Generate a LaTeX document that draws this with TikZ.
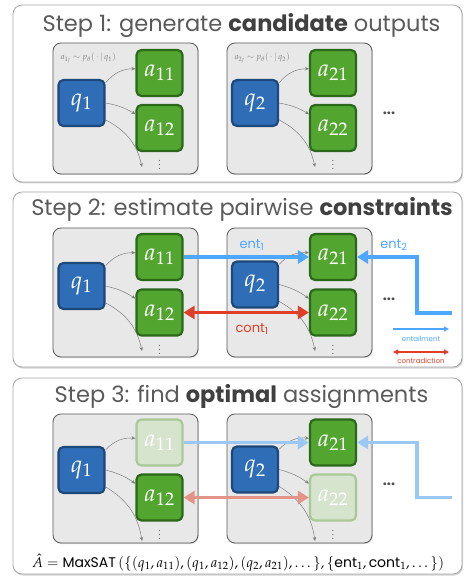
\documentclass[tikz,border=0pt]{standalone}
\usepackage{amsmath}
\usepackage{mathpazo}
\usepackage[no-math]{fontspec}
\setsansfont{Poppins}
\usepackage{tikz}
\usetikzlibrary{arrows.meta, positioning, shadows}
\definecolor{qblue}{RGB}{47,110,183}
\definecolor{qborder}{RGB}{30,72,120}
\definecolor{agreen}{RGB}{82,166,48}
\definecolor{aborder}{RGB}{44,104,28}
\definecolor{fadefill}{RGB}{214,228,205}
\definecolor{fadeborder}{RGB}{168,200,150}
\definecolor{entblue}{RGB}{77,166,255}
\definecolor{contred}{RGB}{224,62,40}
\definecolor{titlegray}{RGB}{90,90,90}
\definecolor{groupfill}{RGB}{232,232,232}
\colorlet{fadeblue}{entblue!50!groupfill}
\colorlet{fadered}{contred!50!groupfill}

\begin{document}
\begin{tikzpicture}[
    x=1pt, y=-1pt,
    panel/.style={draw=gray!70, fill=white, rounded corners=9pt, line width=0.8pt, minimum width=449pt, drop shadow={shadow xshift=1pt, shadow yshift=-1.5pt, opacity=0.35}},
    title/.style={anchor=base, font=\sffamily\fontsize{22.5}{26}\selectfont, text=titlegray},
    group/.style={draw=black!65, fill=groupfill, rounded corners=8pt, line width=0.8pt, minimum width=145pt, drop shadow={shadow xshift=0.8pt, shadow yshift=-1pt, opacity=0.3}},
    query/.style={draw=qborder, fill=qblue, rounded corners=5pt, line width=2.2pt, minimum size=46pt, inner sep=0pt, text=white, font=\fontsize{24}{28}\selectfont},
    answer/.style={query, draw=aborder, fill=agreen},
    faded/.style={draw=fadeborder, fill=fadefill},
    sample/.style={anchor=base west, font=\fontsize{8.5}{9}\selectfont, text=gray},
    gen/.style={-{Stealth[length=4pt, width=3.5pt]}, draw=gray, line width=0.5pt},
    ent/.style={-{Triangle[length=11pt, width=13pt]}, draw=entblue, line width=3.5pt},
    cont/.style={{Triangle[length=11pt, width=13pt]}-{Triangle[length=11pt, width=13pt]}, draw=contred, line width=3.5pt},
    tag/.style={anchor=base, font=\sffamily\fontsize{13}{15}\selectfont},
    more/.style={anchor=base, font=\sffamily\bfseries\Large, text=black!70},
    vmore/.style={font=\large, text=black!70}
]
    \useasboundingbox (0,0) rectangle (465,577);

    % Panels
    \node[panel, minimum height=177pt] (s1) at (237.5,93.5) {};
    \node[panel, minimum height=175pt] (s2) at (237.5,279.5) {};
    \node[panel, minimum height=196pt] (s3) at (237.5,476) {};
    \node[title] (t1) at (241.5,31.5) {Step 1: generate {\bfseries\color{black!75}candidate} outputs};
    \node[title] (t2) at (242,215) {Step 2: estimate pairwise {\bfseries\color{black!75}constraints}};
    \node[title] (t3) at (241.5,402) {Step 3: find {\bfseries\color{black!75}optimal} assignments};

    % Step 1
    \node[group, minimum height=131pt] (s1g1) at (125.5,108.5) {};
    \node[group, minimum height=131pt] (s1g2) at (299.5,108.5) {};
    \node[sample] (s1l1) at (57,60) {$a_{1j}\sim p_\theta(\,\cdot\,|\,q_1)$};
    \node[sample] (s1l2) at (231,60) {$a_{2j}\sim p_\theta(\,\cdot\,|\,q_2)$};
    \node[query] (s1q1) at (81.5,103) {$q_1$};
    \node[answer] (s1a11) at (159.5,73) {$a_{11}$};
    \node[answer] (s1a12) at (159.5,128) {$a_{12}$};
    \node[query] (s1q2) at (255,103) {$q_2$};
    \node[answer] (s1a21) at (333,73) {$a_{21}$};
    \node[answer] (s1a22) at (333,128) {$a_{22}$};
    \node[vmore] (s1v1) at (159.5,162) {$\vdots$};
    \node[vmore] (s1v2) at (333,162) {$\vdots$};
    \node[more] (s1h) at (389,115) {...};
    \coordinate (s1d1) at (142,167);
    \coordinate (s1d2) at (315,167);
    \draw[gen] (s1q1.40) to[bend left=25] (s1a11.170);
    \draw[gen] (s1q1.east) to[bend left=10] (s1a12.150);
    \draw[gen] (s1q1.-35) to[bend left=25] (s1d1);
    \draw[gen] (s1q2.40) to[bend left=25] (s1a21.170);
    \draw[gen] (s1q2.east) to[bend left=10] (s1a22.150);
    \draw[gen] (s1q2.-35) to[bend left=25] (s1d2);

    % Step 2
    \node[group, minimum height=129pt] (s2g1) at (125.5,292.5) {};
    \node[group, minimum height=129pt] (s2g2) at (299.5,292.5) {};
    \node[query] (s2q1) at (81.5,286) {$q_1$};
    \node[answer] (s2a11) at (159.5,257) {$a_{11}$};
    \node[answer] (s2a12) at (159.5,312.5) {$a_{12}$};
    \node[query] (s2q2) at (255,284.5) {$q_2$};
    \node[answer] (s2a21) at (333,257) {$a_{21}$};
    \node[answer] (s2a22) at (333,312.5) {$a_{22}$};
    \node[vmore] (s2v1) at (159.5,347) {$\vdots$};
    \node[vmore] (s2v2) at (333,347) {$\vdots$};
    \node[more] (s2h) at (389,300) {...};
    \coordinate (s2d1) at (142,351);
    \coordinate (s2d2) at (315,351);
    \draw[gen] (s2q1.40) to[bend left=25] (s2a11.170);
    \draw[gen] (s2q1.east) to[bend left=10] (s2a12.150);
    \draw[gen] (s2q1.-35) to[bend left=25] (s2d1);
    \draw[gen] (s2q2.40) to[bend left=25] (s2a21.170);
    \draw[gen] (s2q2.east) to[bend left=10] (s2a22.150);
    \draw[gen] (s2q2.-35) to[bend left=25] (s2d2);
    % constraints
    \coordinate (s2e2) at (452,313);
    \draw[ent] (s2a11.east) -- (s2a21.west);
    \draw[ent, line join=miter] (s2e2) -- ++(-35,0) |- (s2a21.east);
    \draw[cont] (s2a12.east) -- (s2a22.west);
    \node[tag, text=entblue] (s2ent1) at (252,248) {ent\textsubscript{1}};
    \node[tag, text=entblue] (s2ent2) at (394,248) {ent\textsubscript{2}};
    \node[tag, text=contred] (s2cont1) at (252,332) {cont\textsubscript{1}};
    % legend
    \coordinate (lg1a) at (393,329);
    \coordinate (lg1b) at (449,329);
    \coordinate (lg2a) at (393,352);
    \coordinate (lg2b) at (449,352);
    \draw[-{Triangle[length=5pt, width=5pt]}, entblue, line width=1.2pt] (lg1a) -- (lg1b);
    \draw[{Triangle[length=5pt, width=5pt]}-{Triangle[length=5pt, width=5pt]}, contred, line width=1.2pt] (lg2a) -- (lg2b);
    \node[anchor=base, font=\sffamily\fontsize{7}{8}\selectfont, text=entblue] (lg1) at (421,341) {entailment};
    \node[anchor=base, font=\sffamily\fontsize{7}{8}\selectfont, text=contred] (lg2) at (421,363) {contradiction};

    % Step 3
    \node[group, minimum height=129pt] (s3g1) at (125.5,478.5) {};
    \node[group, minimum height=129pt] (s3g2) at (299.5,478.5) {};
    \node[query] (s3q1) at (81.5,470) {$q_1$};
    \node[answer, faded] (s3a11) at (159.5,442.5) {$a_{11}$};
    \node[answer] (s3a12) at (159.5,497.5) {$a_{12}$};
    \node[query] (s3q2) at (255,469.5) {$q_2$};
    \node[answer] (s3a21) at (333,442.5) {$a_{21}$};
    \node[answer, faded] (s3a22) at (333,497.5) {$a_{22}$};
    \node[vmore] (s3v1) at (159.5,532) {$\vdots$};
    \node[vmore] (s3v2) at (333,532) {$\vdots$};
    \node[more] (s3h) at (389,485) {...};
    \coordinate (s3d1) at (142,541);
    \coordinate (s3d2) at (315,541);
    \draw[gen] (s3q1.40) to[bend left=25] (s3a11.170);
    \draw[gen] (s3q1.east) to[bend left=10] (s3a12.150);
    \draw[gen] (s3q1.-35) to[bend left=25] (s3d1);
    \draw[gen] (s3q2.40) to[bend left=25] (s3a21.170);
    \draw[gen] (s3q2.east) to[bend left=10] (s3a22.150);
    \draw[gen] (s3q2.-35) to[bend left=25] (s3d2);
    \coordinate (s3e2) at (452,497.5);
    \draw[ent, draw=fadeblue] (s3a11.east) -- (s3a21.west);
    \draw[ent, draw=fadeblue, line join=miter] (s3e2) -- ++(-35,0) |- (s3a21.east);
    \draw[cont, draw=fadered] (s3a12.east) -- (s3a22.west);
    \node[anchor=base, font=\fontsize{14}{16}\selectfont] (maxsat) at (238,567)
        {$\hat{A} = \textsf{MaxSAT}\left(\{(q_1,a_{11}),(q_1,a_{12}),(q_2,a_{21}),\dots\},\{\textsf{ent}_1,\textsf{cont}_1,\dots\}\right)$};
\end{tikzpicture}
\end{document}
